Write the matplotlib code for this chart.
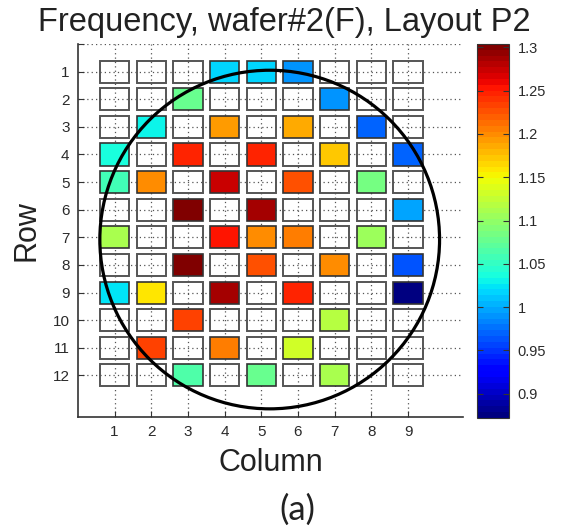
import matplotlib
matplotlib.use('Agg')
import matplotlib.pyplot as plt
from matplotlib.patches import Rectangle, Ellipse
from matplotlib.colors import Normalize
import matplotlib.cm as cm
import numpy as np

plt.rcParams['font.family'] = ['Liberation Sans', 'DejaVu Sans']

# Die grid layout
n_rows = 12
n_cols = 9

# Measured dies: row, column, normalised frequency
die_rows = [1, 1, 1,
            2, 2,
            3, 3, 3, 3,
            4, 4, 4, 4, 4,
            5, 5, 5, 5, 5,
            6, 6, 6,
            7, 7, 7, 7, 7,
            8, 8, 8, 8,
            9, 9, 9, 9, 9,
            10, 10,
            11, 11, 11,
            12, 12, 12]
die_cols = [4, 5, 6,
            3, 7,
            2, 4, 6, 8,
            1, 3, 5, 7, 9,
            1, 2, 4, 6, 8,
            3, 5, 9,
            1, 4, 5, 6, 8,
            3, 5, 7, 9,
            1, 2, 4, 6, 9,
            3, 7,
            2, 4, 6,
            3, 5, 7]
freq = [1.015, 1.015, 0.99,
        1.075, 0.99,
        1.03, 1.19, 1.185, 0.97,
        1.035, 1.25, 1.25, 1.175, 0.97,
        1.06, 1.20, 1.275, 1.225, 1.085,
        1.304, 1.29, 0.995,
        1.11, 1.255, 1.20, 1.205, 1.105,
        1.30, 1.225, 1.20, 0.965,
        1.025, 1.16, 1.285, 1.25, 0.875,
        1.235, 1.12,
        1.23, 1.205, 1.13,
        1.065, 1.08, 1.11]

clim = (0.872, 1.304)
cbar_ticks = [0.9, 0.95, 1.0, 1.05, 1.1, 1.15, 1.2, 1.25, 1.3]
cbar_labels = ['0.9', '0.95', '1', '1.05', '1.1', '1.15', '1.2', '1.25', '1.3']

# Wafer outline (centre and radii in column/row units)
wafer_center = (5.23, 7.08)
wafer_radii = (4.63, 6.13)

cmap = plt.get_cmap('jet', 64)
norm = Normalize(vmin=clim[0], vmax=clim[1])

fig = plt.figure(figsize=(5.64, 5.27), dpi=100)
ax = fig.add_axes([0.138, 0.209, 0.683, 0.7075])
cax = fig.add_axes([0.846, 0.207, 0.0567, 0.7097])

ax.set_xlim(0, 10.5)
ax.set_ylim(13.5, 0)

ax.set_xticks(range(1, n_cols + 1))
ax.set_yticks(range(0, n_rows + 1))
ax.set_yticklabels([''] + [str(r) for r in range(1, n_rows + 1)])
ax.grid(True, linestyle=(0, (1, 2.5)), color='#555555', linewidth=0.9, zorder=0)
ax.set_axisbelow(True)

for side in ['top', 'right']:
    ax.spines[side].set_visible(False)
for side in ['left', 'bottom']:
    ax.spines[side].set_color('#333333')
    ax.spines[side].set_linewidth(1.2)
ax.tick_params(direction='in', length=4, width=0.8, colors='#333333',
               labelsize=11, labelcolor='#2a2a2a', pad=6)

# empty die boxes
w, h = 0.8, 0.8
measured = set(zip(die_rows, die_cols))
for r in range(1, n_rows + 1):
    for c in range(1, n_cols + 1):
        if (r, c) in measured:
            continue
        ax.add_patch(Rectangle((c - w / 2, r - h / 2), w, h, facecolor='none',
                               edgecolor='#555555', linewidth=1.4, zorder=2))

# measured die boxes
for r, c, f in zip(die_rows, die_cols, freq):
    ax.add_patch(Rectangle((c - w / 2, r - h / 2), w, h, facecolor=cmap(norm(f)),
                           edgecolor='#333333', linewidth=1.2, zorder=3))

ax.add_patch(Ellipse(wafer_center, 2 * wafer_radii[0], 2 * wafer_radii[1],
                     facecolor='none', edgecolor='black', linewidth=2.3, zorder=4))

fig.text(0.504, 0.958, 'Frequency, wafer#2(F), Layout P2', fontsize=23.5,
         color='#222222', ha='center', va='center')
ax.set_xlabel('Column', fontsize=22, color='#222222', labelpad=6)
ax.set_ylabel('Row', fontsize=22, color='#222222', labelpad=8)

sm = cm.ScalarMappable(norm=norm, cmap=cmap)
cb = fig.colorbar(sm, cax=cax, ticks=cbar_ticks)
cb.ax.set_yticklabels(cbar_labels)
cb.ax.tick_params(direction='in', length=4, width=0.8, colors='#333333',
                  labelsize=10.5, labelcolor='#2a2a2a', left=True, right=True, pad=6)
cb.outline.set_edgecolor('#333333')

fig.text(0.527, 0.032, '(a)', fontsize=25, family=['Lato', 'DejaVu Sans'],
         ha='center', va='center', color='#222222')

fig.savefig('out.png', dpi=100)
